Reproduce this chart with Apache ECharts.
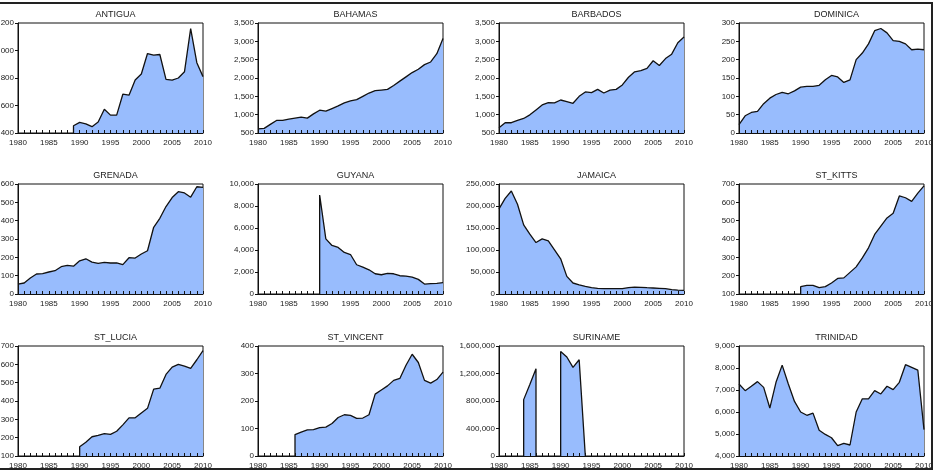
<!DOCTYPE html>
<html>
<head>
<meta charset="utf-8">
<script src="https://cdn.jsdelivr.net/npm/echarts@6/dist/echarts.min.js"></script>
<style>
  html, body { margin: 0; padding: 0; background: #fff; }
  #main { width: 938px; height: 474px; }
</style>
</head>
<body>
<div id="main"></div>
<script>
// years on the x axis
const years = [1980,1981,1982,1983,1984,1985,1986,1987,1988,1989,1990,1991,1992,1993,1994,1995,1996,1997,1998,1999,2000,2001,2002,2003,2004,2005,2006,2007,2008,2009,2010];
const yearTicks = [1980, 1985, 1990, 1995, 2000, 2005, 2010];

const countries = ['ANTIGUA','BAHAMAS','BARBADOS','DOMINICA','GRENADA','GUYANA','JAMAICA','ST_KITTS','ST_LUCIA','ST_VINCENT','SURINAME','TRINIDAD'];

const antigua = [null,null,null,null,null,null,null,null,null,453,477,467,446,480,573,530,530,682,675,785,829,978,966,971,790,785,800,846,1159,911,810];
const bahamas = [610,625,734,842,842,878,905,932,905,1022,1121,1094,1166,1238,1320,1374,1410,1500,1590,1653,1671,1689,1797,1914,2031,2148,2239,2365,2437,2662,3080];
const barbados = [640,780,780,842,896,995,1130,1265,1330,1320,1400,1355,1310,1500,1620,1600,1690,1590,1670,1690,1810,2020,2170,2200,2260,2470,2340,2530,2650,2960,3120];
const dominica = [23,47,56,59,80,95,105,111,107,115,125,127,127,130,145,157,153,138,145,200,218,243,279,285,273,252,250,243,227,229,227];
const grenada = [54,60,87,109,111,120,127,149,156,152,181,192,174,167,172,169,170,160,198,196,218,236,364,413,477,526,558,551,528,585,582];
const guyana = [null,null,null,null,null,null,null,null,null,null,9000,5010,4410,4230,3775,3590,2660,2450,2200,1840,1750,1870,1840,1660,1630,1540,1330,905,935,965,1030];
const jamaica = [193300,217400,234000,203900,157000,136000,117000,125300,120800,100400,80000,40000,25000,21000,17400,14300,12800,12000,12000,12000,12000,14300,15800,15100,14300,13600,12800,12000,9800,9000,8300];
const stKitts = [null,null,null,null,null,null,null,null,null,null,140,147,147,135,140,160,185,188,218,248,297,352,425,470,515,540,635,625,605,650,690];
const stLucia = [null,null,null,null,null,null,null,null,null,null,150,175,205,212,222,218,235,270,308,308,335,360,465,470,545,585,600,590,578,625,675];
const stVincent = [null,null,null,null,null,null,78,87,95,96,103,105,118,140,150,148,137,138,150,225,240,255,275,282,330,370,340,275,265,278,305];
const suriname = [null,null,null,null,820000,1040000,1270000,null,null,null,1520000,1440000,1290000,1400000,0,null,null,null,null,null,null,null,null,null,null,null,null,null,null,null,null];
const trinidad = [7270,6970,7170,7380,7120,6180,7350,8130,7270,6480,6000,5850,5950,5170,4980,4830,4470,4570,4500,6000,6600,6600,6970,6820,7170,7020,7350,8150,8030,7900,5200];

const seriesValues = [antigua, bahamas, barbados, dominica, grenada, guyana, jamaica, stKitts, stLucia, stVincent, suriname, trinidad];

// y axis scales
const yMin = [400, 500, 500, 0, 0, 0, 0, 100, 100, 0, 0, 4000];
const yMax = [1200, 3500, 3500, 300, 600, 10000, 250000, 700, 700, 400, 1600000, 9000];
const yStep = [200, 500, 500, 50, 100, 2000, 50000, 100, 100, 100, 400000, 1000];

const colLeft = [18, 258, 499, 739];
const rowTop = [23, 184, 346];
const plotW = 185, plotH = 110;

// turn a series into [year, value] pairs, closing each run down to the axis min
function toPoints(vals, base) {
  const pts = [];
  for (let i = 0; i < vals.length; i++) {
    const v = vals[i];
    if (v == null) { pts.push([years[i], null]); continue; }
    const prev = i > 0 ? vals[i - 1] : 0;
    const next = i < vals.length - 1 ? vals[i + 1] : 0;
    if (i > 0 && prev == null) pts.push([years[i], base]);
    pts.push([years[i], v]);
    if (i < vals.length - 1 && next == null) pts.push([years[i], base]);
  }
  return pts;
}

const font = 'Arial, "Liberation Sans", sans-serif';
const grid = [], xAxis = [], yAxis = [], series = [], title = [];

countries.forEach(function (name, k) {
  const r = Math.floor(k / 4), c = k % 4;
  grid.push({
    left: colLeft[c], top: rowTop[r], width: plotW, height: plotH,
    outerBoundsMode: 'none', containLabel: false,
    show: true, borderColor: '#111', borderWidth: 1, backgroundColor: 'transparent'
  });
  xAxis.push({
    type: 'value', gridIndex: k, min: 1980, max: 2010, interval: 5, z: 5,
    axisLine: { show: true, onZero: false, lineStyle: { color: '#111', width: 1 } },
    axisTick: { show: true, inside: true, length: 3, lineStyle: { color: '#111' } },
    minorTick: { show: true, splitNumber: 5, length: 3, lineStyle: { color: '#111' } },
    splitLine: { show: false },
    axisLabel: {
      fontSize: 8, color: '#222', fontFamily: font, margin: 6,
      formatter: function (v) { return yearTicks.indexOf(v) >= 0 ? String(v) : ''; }
    }
  });
  yAxis.push({
    type: 'value', gridIndex: k, min: yMin[k], max: yMax[k], interval: yStep[k], z: 5,
    axisLine: { show: true, lineStyle: { color: '#111', width: 1 } },
    axisTick: { show: true, length: 3, lineStyle: { color: '#111' } },
    splitLine: { show: false },
    axisLabel: {
      fontSize: 8, color: '#222', fontFamily: font, margin: 4,
      formatter: function (v) { return v.toLocaleString('en-US'); }
    }
  });
  series.push({
    type: 'line', xAxisIndex: k, yAxisIndex: k,
    data: toPoints(seriesValues[k], yMin[k]),
    symbol: 'none', connectNulls: false,
    lineStyle: { color: '#111', width: 1.3 },
    areaStyle: { color: '#98BCFD', opacity: 1, origin: 'start' }
  });
  title.push({
    text: name, left: colLeft[c] + plotW / 2, top: rowTop[r] - 18, textAlign: 'center',
    textStyle: { fontSize: 9, fontWeight: 'normal', color: '#222', fontFamily: font }
  });
});

const chart = echarts.init(document.getElementById('main'));
chart.setOption({
  animation: false,
  backgroundColor: '#fff',
  title: title,
  grid: grid,
  xAxis: xAxis,
  yAxis: yAxis,
  series: series,
  graphic: [
    { type: 'rect', z: 100, shape: { x: 0, y: 470, width: 938, height: 4 }, style: { fill: '#fff' } },
    { type: 'rect', z: 101, shape: { x: -5, y: 3, width: 937, height: 466 },
      style: { fill: 'none', stroke: '#222', lineWidth: 2 } }
  ]
});
</script>
</body>
</html>
